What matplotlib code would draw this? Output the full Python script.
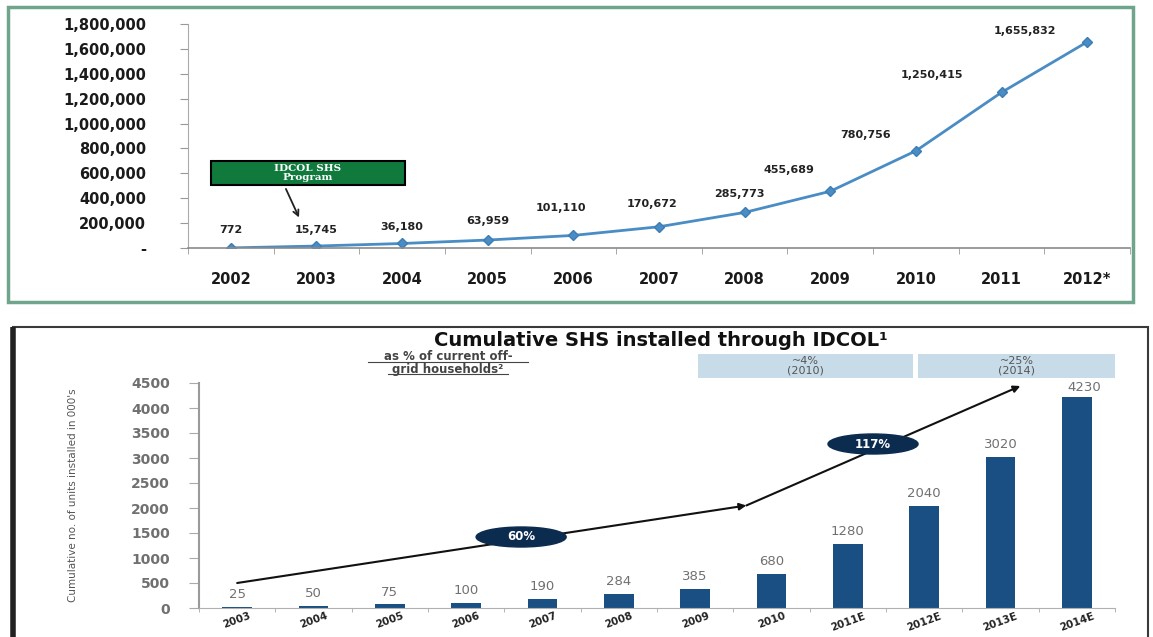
import numpy as np
import matplotlib.pyplot as plt
from matplotlib.patches import Rectangle, Ellipse
from matplotlib.lines import Line2D

# top chart: SHS installed per year
years = ['2002', '2003', '2004', '2005', '2006', '2007', '2008', '2009', '2010', '2011', '2012*']
shs = [772, 15745, 36180, 63959, 101110, 170672, 285773, 455689, 780756, 1250415, 1655832]
# label offsets in points (dx, dy) from each point
lab_off = [(0, 9), (0, 8), (0, 8), (0, 10), (-9, 16), (-5, 13), (-4, 10), (-30, 12),
           (-36, 8), (-50, 9), (-45, 4)]

# bottom chart: cumulative SHS through IDCOL (000's)
periods = ['2003', '2004', '2005', '2006', '2007', '2008', '2009', '2010',
           '2011E', '2012E', '2013E', '2014E']
cum = [25, 50, 75, 100, 190, 284, 385, 680, 1280, 2040, 3020, 4230]
trend_x = [0, 6.67, 10.26]
trend_y = [500, 2050, 4440]

W, H = 1153, 637


def fx(px):
    return px / W


def fy(py):
    return 1 - py / H


fig = plt.figure(figsize=(11.53, 6.37), dpi=100)

# frames
fig.add_artist(Rectangle((fx(8), fy(302)), fx(1133) - fx(8), fy(7) - fy(302),
                         transform=fig.transFigure, fill=False, ec='#6fa58c', lw=2.5))
fig.add_artist(Rectangle((fx(13), fy(640)), fx(1148) - fx(13), fy(327) - fy(640),
                         transform=fig.transFigure, fill=False, ec='#3a3a3a', lw=1.5))
fig.add_artist(Line2D([fx(13), fx(13)], [fy(640), fy(327)], transform=fig.transFigure,
                      color='#222222', lw=4, solid_capstyle='butt'))

# ---------- top ----------
ax = fig.add_axes([fx(188), fy(248), fx(1130) - fx(188), fy(24) - fy(248)])
x = np.arange(len(years))
ax.plot(x, shs, color='#4a8cc4', lw=2, marker='D', ms=5, mfc='#4a8cc4', mec='#3c7db5')
ax.set_xlim(-0.5, len(years) - 0.5)
ax.set_ylim(0, 1800000)
ax.set_yticks(np.arange(0, 1800001, 200000))
ax.set_yticklabels(['-'] + ['{:,}'.format(v) for v in range(200000, 1800001, 200000)],
                   fontsize=10.5, fontweight='bold', color='#1a1a1a')
ax.set_xticks(x)
ax.set_xticklabels(years, fontsize=10.5, fontweight='bold', color='#1a1a1a')
ax.set_xticks(np.arange(-0.5, len(years)), minor=True)
ax.tick_params(axis='x', which='major', length=0, pad=17)
ax.tick_params(axis='x', which='minor', length=4, color='#999999', direction='out')
ax.tick_params(axis='y', length=6, color='#999999', pad=24)
for s in ['top', 'right']:
    ax.spines[s].set_visible(False)
ax.spines['left'].set_color('#aaaaaa')
ax.spines['bottom'].set_color('#8a8a8a')
ax.spines['bottom'].set_linewidth(1.2)
for i, v in enumerate(shs):
    ax.annotate('{:,}'.format(v), (i, v), xytext=lab_off[i], textcoords='offset points',
                ha='center', va='bottom', fontsize=8, fontweight='bold', color='#222222')

ax.add_patch(Rectangle((-0.23, 506000), 2.26, 193000, fc='#0f7a3c', ec='black', lw=1.5,
                       clip_on=False, zorder=3))
ax.text(0.9, 603000, 'IDCOL SHS\nProgram', ha='center', va='center', color='white',
        fontsize=7.5, fontweight='bold', family='DejaVu Serif', linespacing=0.9, zorder=4)
ax.annotate('', xy=(0.81, 225000), xytext=(0.63, 495000),
            arrowprops=dict(arrowstyle='->', color='#222222', lw=1.3))

# ---------- bottom ----------
bx = fig.add_axes([fx(199), fy(608), fx(1115) - fx(199), fy(383) - fy(608)])
xb = np.arange(len(periods))
bx.bar(xb, cum, width=0.39, color='#1a4f84', zorder=2)
bx.set_xlim(-0.5, len(periods) - 0.5)
bx.set_ylim(0, 4500)
bx.set_yticks(np.arange(0, 4501, 500))
bx.set_yticklabels([str(v) for v in range(0, 4501, 500)], fontsize=10, fontweight='bold',
                   color='#707070')
bx.set_xticks(xb)
bx.set_xticklabels(periods, fontsize=7.5, fontweight='bold', rotation=20, color='#222222')
bx.set_xticks(np.arange(-0.5, len(periods)), minor=True)
bx.tick_params(axis='x', which='major', length=0, pad=2)
bx.tick_params(axis='x', which='minor', length=3, color='#aaaaaa')
bx.tick_params(axis='y', length=7, color='#aaaaaa', pad=14)
for s in ['top', 'right']:
    bx.spines[s].set_visible(False)
bx.spines['left'].set_color('#9a9a9a')
bx.spines['left'].set_linewidth(1.5)
bx.spines['bottom'].set_color('#b0b0b0')
for i, v in enumerate(cum):
    if i == len(cum) - 1:
        bx.annotate(str(v), (i, v), xytext=(5, 2), textcoords='offset points', ha='center',
                    va='bottom', fontsize=9.5, color='#707070')
    else:
        bx.annotate(str(v), (i, v), xytext=(0, 4), textcoords='offset points', ha='center',
                    va='bottom', fontsize=9.5, color='#707070')
bx.set_ylabel("Cumulative no. of units installed in 000's", fontsize=7.5, color='#555555',
              labelpad=38)

# trend arrows
bx.annotate('', xy=(trend_x[1], trend_y[1]), xytext=(trend_x[0], trend_y[0]),
            arrowprops=dict(arrowstyle='-|>', color='#111111', lw=1.5, mutation_scale=10,
                            shrinkA=0, shrinkB=0), annotation_clip=False)
bx.annotate('', xy=(trend_x[2], trend_y[2]), xytext=(trend_x[1], trend_y[1]),
            arrowprops=dict(arrowstyle='-|>', color='#111111', lw=1.5, mutation_scale=10,
                            shrinkA=0, shrinkB=0), annotation_clip=False)
for cx, cy, t in [(3.72, 1420, '60%'), (8.33, 3280, '117%')]:
    bx.add_patch(Ellipse((cx, cy), 1.18, 400, fc='#0c2c4f', ec='#0c2c4f', zorder=4))
    bx.text(cx, cy, t, ha='center', va='center', color='white', fontsize=8.5,
            fontweight='bold', zorder=5)

# titles and boxes
fig.text(fx(661), fy(340), 'Cumulative SHS installed through IDCOL\u00b9', ha='center',
         va='center', fontsize=14, fontweight='bold', color='#111111')
fig.text(fx(448), fy(363), 'as % of current off-\ngrid households\u00b2', ha='center',
         va='center', fontsize=8.5, fontweight='bold', color='#444444', linespacing=1.0)
fig.add_artist(Line2D([fx(368), fx(528)], [fy(362), fy(362)], transform=fig.transFigure,
                      color='#444444', lw=0.8))
fig.add_artist(Line2D([fx(388), fx(508)], [fy(374), fy(374)], transform=fig.transFigure,
                      color='#444444', lw=0.8))
for x0, x1, t in [(698, 913, '~4%\n(2010)'), (918, 1115, '~25%\n(2014)')]:
    fig.add_artist(Rectangle((fx(x0), fy(378)), fx(x1) - fx(x0), fy(354) - fy(378),
                             transform=fig.transFigure, fc='#c8dbe9', ec='none'))
    fig.text(fx((x0 + x1) / 2), fy(366), t, ha='center', va='center', fontsize=8,
             color='#555555', linespacing=0.95)

fig.savefig('out.png', dpi=100)
